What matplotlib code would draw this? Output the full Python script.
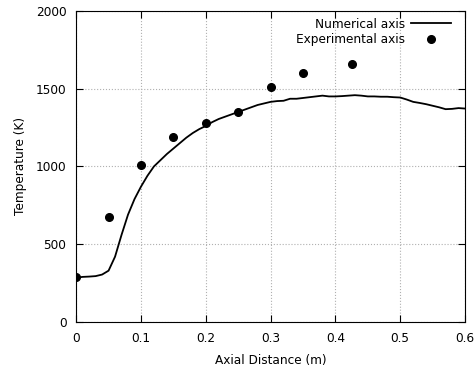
import numpy as np
import matplotlib
matplotlib.use('Agg')
import matplotlib.pyplot as plt

# numerical solution along the axis
num_x = [0.0, 0.01, 0.02, 0.03, 0.04, 0.05, 0.06, 0.07, 0.08, 0.09, 0.10,
         0.11, 0.12, 0.13, 0.14, 0.15, 0.16, 0.17, 0.18, 0.19, 0.20,
         0.21, 0.22, 0.23, 0.24, 0.25, 0.26, 0.27, 0.28, 0.29, 0.30,
         0.31, 0.32, 0.33, 0.34, 0.35, 0.36, 0.37, 0.38, 0.39, 0.40,
         0.41, 0.42, 0.43, 0.44, 0.45, 0.46, 0.47, 0.48, 0.49, 0.50,
         0.51, 0.52, 0.53, 0.54, 0.55, 0.56, 0.57, 0.58, 0.59, 0.60]
num_t = [285, 290, 292, 295, 305, 330, 420, 560, 690, 790, 870,
         940, 1000, 1040, 1080, 1115, 1150, 1185, 1215, 1240, 1260,
         1285, 1305, 1320, 1335, 1350, 1365, 1380, 1395, 1405, 1415,
         1420, 1422, 1435, 1435, 1440, 1445, 1450, 1455, 1450, 1450,
         1452, 1455, 1458, 1455, 1450, 1450, 1448, 1448, 1445, 1443,
         1430, 1415, 1408, 1400, 1390, 1380, 1368, 1370, 1375, 1372]

# measurements
exp_x = [0.0, 0.05, 0.1, 0.15, 0.2, 0.25, 0.3, 0.35, 0.425]
exp_t = [290, 675, 1010, 1190, 1280, 1350, 1510, 1600, 1660]

fig = plt.figure(figsize=(4.76, 3.74), dpi=100)
ax = fig.add_axes([0.160, 0.139, 0.817, 0.832])

ax.plot(num_x, num_t, color='black', lw=1.3, label='Numerical axis')
ax.plot(exp_x, exp_t, 'o', color='black', ms=5.5, label='Experimental axis')

ax.set_xlim(0, 0.6)
ax.set_ylim(0, 2000)
ax.set_xticks(np.arange(0, 0.61, 0.1))
ax.set_xticklabels(['0', '0.1', '0.2', '0.3', '0.4', '0.5', '0.6'])
ax.set_yticks([0, 500, 1000, 1500, 2000])
ax.tick_params(direction='in', top=True, right=True, labelsize=8.7, length=5, pad=7)
ax.grid(True, color='#b0b0b0', linestyle=':', lw=0.8)
ax.set_xlabel('Axial Distance (m)', fontsize=8.7, labelpad=7)
ax.set_ylabel('Temperature (K)', fontsize=8.7, labelpad=6)

ax.legend(loc='upper right', bbox_to_anchor=(0.992, 1.013), frameon=False,
          markerfirst=False, fontsize=8.7,
          handlelength=3.3, handletextpad=0.5, borderaxespad=0.6,
          borderpad=0.3, labelspacing=0.2)

plt.savefig('out.png', dpi=100)
